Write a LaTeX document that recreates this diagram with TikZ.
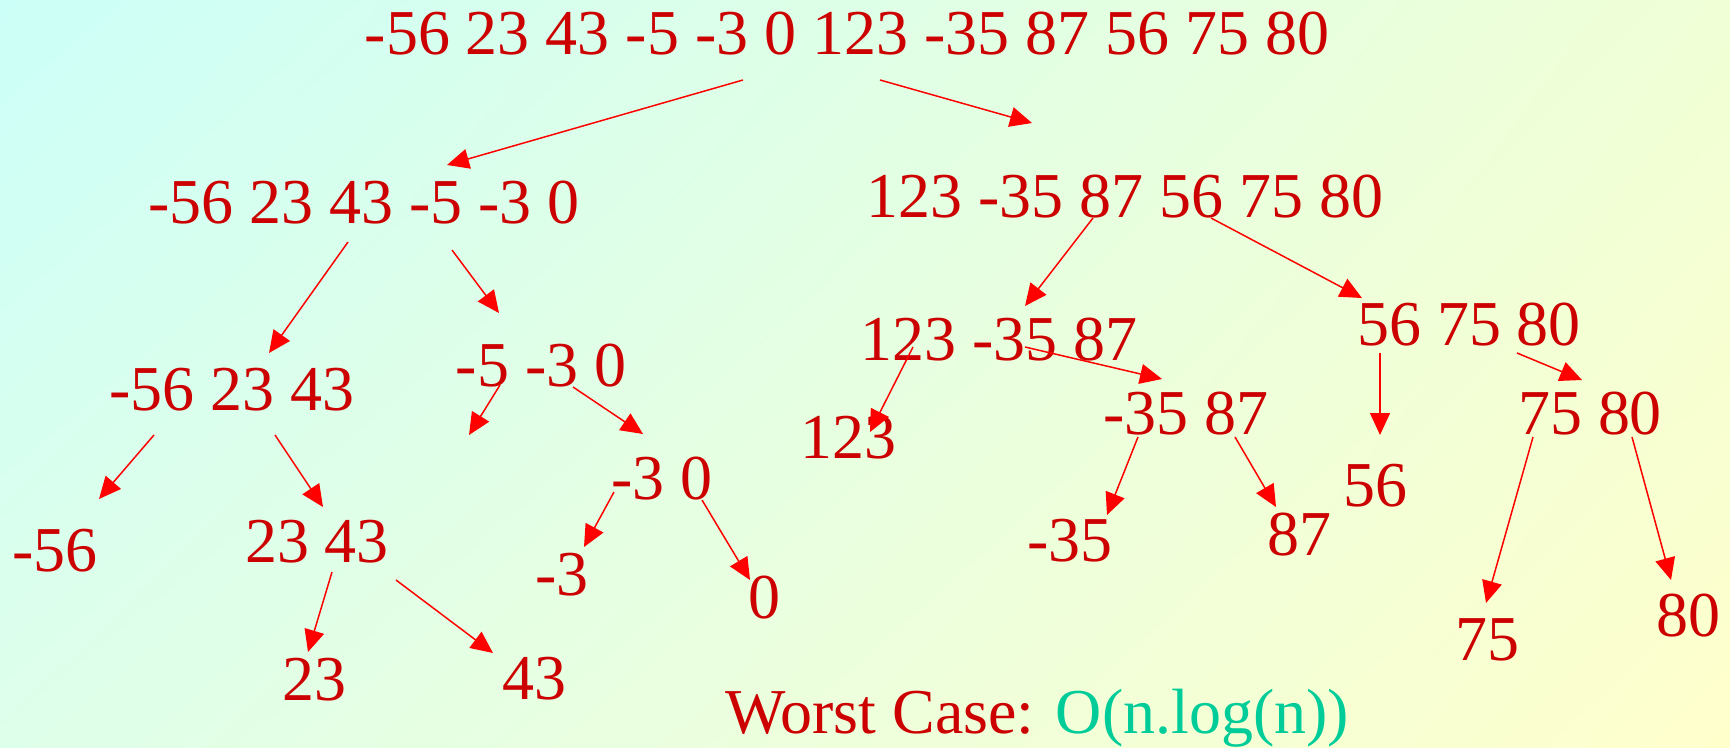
\documentclass[tikz,border=0pt]{standalone}
\usepackage{fontspec}
\setmainfont{Liberation Serif}
\usepackage{xcolor}
\usepackage{tikz}
\usetikzlibrary{arrows.meta,shadings}

\definecolor{numred}{RGB}{204,0,0}
\definecolor{arrred}{RGB}{255,0,0}
\definecolor{bigo}{RGB}{0,204,153}
\definecolor{bgA}{RGB}{204,255,248}
\definecolor{bgB}{RGB}{240,255,214}
\definecolor{bgC}{RGB}{222,255,234}
\definecolor{bgD}{RGB}{255,255,204}

\begin{document}
\begin{tikzpicture}[x=0.02cm, y=-0.02cm,
  num/.style={text=numred, inner sep=0pt, font=\fontsize{36.4}{40}\selectfont},
  arr/.style={draw=arrred, line width=0.85pt,
    -{Triangle[length=0.44cm,width=0.4cm]}}]
  \shade[upper left=bgA, upper right=bgB, lower left=bgC, lower right=bgD]
    (0,0) rectangle (1730,747);
  \useasboundingbox (0,0) rectangle (1730,747);

  % the array and its halves
  \node[num] (top) at (847,34) {-56 23 43 -5 -3 0 123 -35 87 56 75 80};
  \node[num] (l)   at (364,203) {-56 23 43 -5 -3 0};
  \node[num] (r)   at (1125,197) {123 -35 87 56 75 80};
  \node[num] (ll)  at (232,390) {-56 23 43};
  \node[num] (lr)  at (541,366) {-5 -3 0};
  \node[num] (rl)  at (999,340) {123 -35 87};
  \node[num] (rr)  at (1469,325) {56 75 80};
  \node[num] (lll) at (55,551) {-56};
  \node[num] (llr) at (317,542) {23 43};
  \coordinate (lrl) at (469,435);
  \node[num] (lrr) at (662,479) {-3 0};
  \node[num] (rll) at (848,438) {123};
  \node[num] (rlr) at (1186,414) {-35 87};
  \node[num] (rrl) at (1375,486) {56};
  \node[num] (rrr) at (1590,414) {75 80};
  \node[num] (llrl) at (314,680) {23};
  \node[num] (llrr) at (534,679) {43};
  \node[num] (lrrl) at (562,575) {-3};
  \node[num] (lrrr) at (764,598) {0};
  \node[num] (rlrl) at (1070,541) {-35};
  \node[num] (rlrr) at (1299,535) {87};
  \node[num] (rrrl) at (1487,640) {75};
  \node[num] (rrrr) at (1688,616) {80};

  % splits
  \foreach \a/\ax/\ay/\b/\bx/\by in {
      top/-104/46/l/83/-38, top/33/46/r/-93/-74,
      l/-16/39/ll/37/-37, l/88/47/lr/-42/-53,
      ll/-78/45/lll/44/-52, ll/43/45/llr/6/-35,
      llr/15/30/llrl/-6/-28, llr/79/38/llrr/-41/-26,
      lr/-41/19/lrl/0/0, lr/32/21/lrr/-19/-45,
      lrr/-48/13/lrrl/22/-28, lrr/40/21/lrrr/-14/-18,
      r/-32/21/rl/26/-34, r/86/21/rr/-107/-27,
      rl/-86/7/rll/22/-6, rl/26/7/rlr/-24/-35,
      rlr/-48/23/rlrl/37/-26, rlr/49/23/rlrr/-23/-28,
      rr/-89/28/rrl/5/-51, rr/48/28/rrr/-8/-34,
      rrr/-57/23/rrrl/-1/-37, rrr/42/23/rrrr/-17/-36}
    \draw[arr] ([shift={(\ax,\ay)}]\a.center) -- ([shift={(\bx,\by)}]\b.center);

  \node[num, anchor=base west] (cost) at (725,733)
    {Worst Case: \textcolor{bigo}{O(n.log(n))}};
\end{tikzpicture}
\end{document}
